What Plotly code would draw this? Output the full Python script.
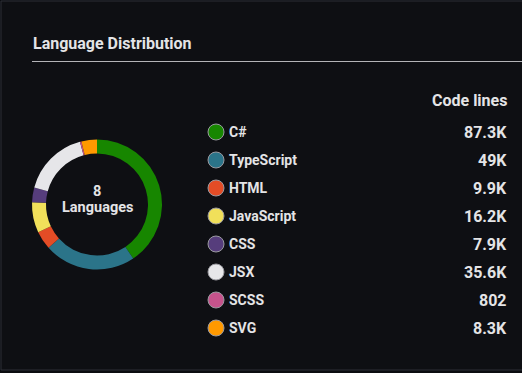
import plotly.graph_objects as go

languages = ["C#", "TypeScript", "HTML", "JavaScript", "CSS", "JSX", "SCSS", "SVG"]
code_lines = [87300, 49000, 9900, 16200, 7900, 35600, 802, 8300]
value_labels = ["87.3K", "49K", "9.9K", "16.2K", "7.9K", "35.6K", "802", "8.3K"]
colors = ["#178600", "#2b7489", "#e34c26", "#f1e05a", "#563d7c", "#e6e6e9", "#c6538c", "#ff9900"]

W, H = 522, 373
BG = "#0e0f13"
TXT = "#e4e4e6"
FONT = "Roboto"

fig = go.Figure()

# donut
cx, cy, r = 97, 204.5, 65
fig.add_trace(go.Pie(
    labels=languages, values=code_lines, sort=False, direction="clockwise", rotation=0,
    hole=0.785, marker=dict(colors=colors, line=dict(width=0)),
    textinfo="none", hoverinfo="label+value", showlegend=False,
    domain=dict(x=[(cx - r) / W, (cx + r) / W], y=[(H - cy - r) / H, (H - cy + r) / H]),
))

# legend rows (pixel coordinate axes)
row0, step = 132, 28
ys = [row0 + step * i for i in range(len(languages))]
fig.add_trace(go.Scatter(
    x=[216] * len(languages), y=ys, mode="markers",
    marker=dict(size=16, color=colors, line=dict(color="#9a9aa0", width=1)),
    hoverinfo="skip", showlegend=False,
))

fig.update_xaxes(range=[0, W], visible=False, fixedrange=True)
fig.update_yaxes(range=[H, 0], visible=False, fixedrange=True)

annotations = []
for y, name, val in zip(ys, languages, value_labels):
    annotations.append(dict(x=227, y=y, text=f"<b>{name}</b>", xanchor="left", yanchor="middle",
                            showarrow=False, font=dict(family=FONT, size=14, color=TXT),
                            xref="x", yref="y"))
    annotations.append(dict(x=509, y=y, text=f"<b>{val}</b>", xanchor="right", yanchor="middle",
                            showarrow=False, font=dict(family=FONT, size=16, color=TXT),
                            xref="x", yref="y"))
annotations.append(dict(x=509, y=100, text="<b>Code lines</b>", xanchor="right", yanchor="middle",
                        showarrow=False, font=dict(family=FONT, size=16, color=TXT), xref="x", yref="y"))
annotations.append(dict(x=31, y=43, text="<b>Language Distribution</b>", xanchor="left", yanchor="middle",
                        showarrow=False, font=dict(family=FONT, size=16, color=TXT), xref="x", yref="y"))
annotations.append(dict(x=cx, y=191, text=f"<b>{len(languages)}</b>", xanchor="center",
                        yanchor="middle", showarrow=False, font=dict(family=FONT, size=14.5, color=TXT),
                        xref="x", yref="y"))
annotations.append(dict(x=cx, y=207, text="<b>Languages</b>", xanchor="center",
                        yanchor="middle", showarrow=False, font=dict(family=FONT, size=14.5, color=TXT),
                        xref="x", yref="y"))

shapes = [
    dict(type="rect", xref="x", yref="y", x0=1, y0=1, x1=W + 10, y1=370,
         line=dict(color="#2c2f36", width=1), fillcolor=BG, layer="below"),
    dict(type="line", xref="x", yref="y", x0=32, y0=61.5, x1=W, y1=61.5,
         line=dict(color="#b4b4b8", width=1)),
]

fig.update_layout(
    width=W, height=H, margin=dict(l=0, r=0, t=0, b=0),
    paper_bgcolor="#0b0c10", plot_bgcolor="rgba(0,0,0,0)",
    annotations=annotations, shapes=shapes,
    font=dict(family=FONT, color=TXT),
)

fig.write_html("out.html", config={"displayModeBar": False},
               post_script="document.body.style.margin='0';document.body.style.overflow='hidden';")
